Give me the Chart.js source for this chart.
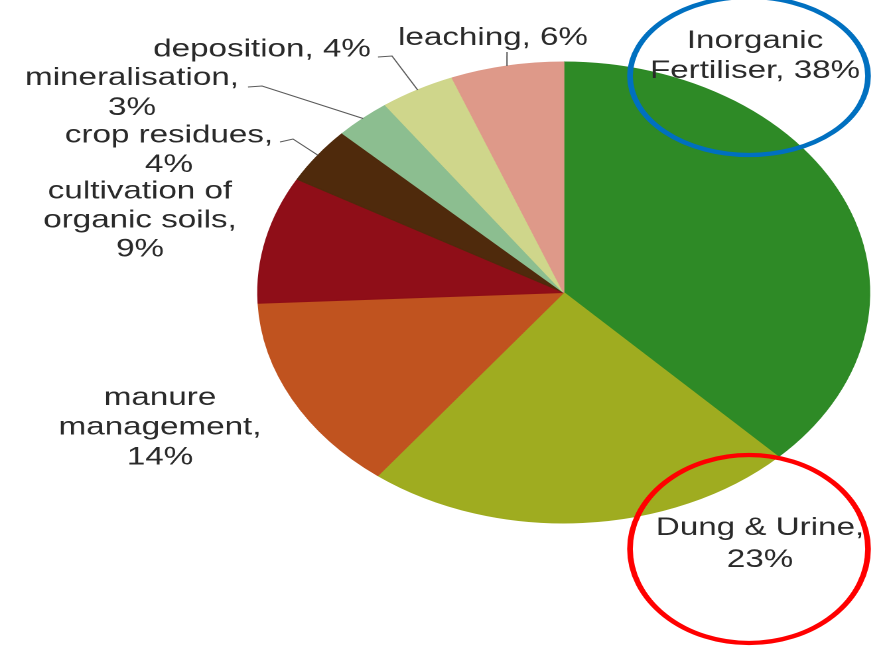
<!DOCTYPE html>
<html>
<head>
<meta charset="utf-8">
<title>N2O sources</title>
<script src="https://cdn.jsdelivr.net/npm/chart.js@4.4.1/dist/chart.umd.min.js"></script>
<style>
  html, body { margin: 0; padding: 0; background: #fff; overflow: hidden; }
  #wrap {
    width: 664px; height: 647px;
    transform: scaleX(1.32681); transform-origin: 0 0;
  }
</style>
</head>
<body>
<div id="wrap"><canvas id="pie" width="664" height="647"></canvas></div>
<script>
'use strict';

const categories = ['Inorganic Fertiliser', 'Dung & Urine', 'manure management',
  'cultivation of organic soils', 'crop residues', 'mineralisation', 'deposition', 'leaching'];
const shares = [38, 23, 14, 9, 4, 3, 4, 6];
const sliceColors = ['#2e8a26', '#9fac20', '#c0531f', '#8f0e18', '#4f2a0c', '#8cbe90', '#cfd68b', '#de9989'];

// the whole figure is widened horizontally by this factor
const STRETCH = 881 / 664;
const px = x => x / STRETCH;

// where each label's line breaks fall (word index), and its first line centre
const labelBreaks = [[1], [3], [1, 2], [2, 4], [2], [1], [], []];
const labelAnchors = [[755, 41, 30], [760, 528, 32], [160, 398, 29.8], [140, 191.5, 29],
  [169, 135.5, 29.5], [132, 78, 30], [262, 49.5, 30], [493, 38, 30]];
// leader lines: text end + elbow, finished at the slice edge
const leaders = {
  4: [[280, 142], [293, 139]],
  5: [[248, 87], [262, 86]],
  6: [[378, 57], [392, 56]],
  7: [[507, 52]],
};

function labelLines(i) {
  const words = `${categories[i]}, ${shares[i]}%`.split(' ');
  const cuts = [0, ...labelBreaks[i], words.length];
  const out = [];
  for (let k = 0; k < cuts.length - 1; k++) out.push(words.slice(cuts[k], cuts[k + 1]).join(' '));
  return out;
}

const sliceLabels = {
  id: 'sliceLabels',
  afterDraw(chart) {
    const ctx = chart.ctx;
    const arcs = chart.getDatasetMeta(0).data;
    ctx.save();

    ctx.strokeStyle = '#5a5a5a';
    ctx.lineWidth = 1;
    Object.entries(leaders).forEach(([i, pts]) => {
      const a = arcs[i];
      const mid = (a.startAngle + a.endAngle) / 2;
      ctx.beginPath();
      ctx.moveTo(px(pts[0][0]), pts[0][1]);
      pts.slice(1).forEach(p => ctx.lineTo(px(p[0]), p[1]));
      ctx.lineTo(a.x + Math.cos(mid) * a.outerRadius, a.y + Math.sin(mid) * a.outerRadius);
      ctx.stroke();
    });

    ctx.fillStyle = '#2a2a2a';
    ctx.font = '25px "Liberation Sans", Arial, sans-serif';
    ctx.textAlign = 'center';
    ctx.textBaseline = 'middle';
    categories.forEach((c, i) => {
      const [x, y, lh] = labelAnchors[i];
      labelLines(i).forEach((t, k) => ctx.fillText(t, px(x), y + k * lh));
    });

    // highlight rings round the two biggest sources
    ctx.lineWidth = 4.3;
    ctx.strokeStyle = '#0070c0';
    ctx.beginPath();
    ctx.ellipse(px(749), 76, px(119), 79, 0, 0, Math.PI * 2);
    ctx.stroke();
    ctx.strokeStyle = '#ff0000';
    ctx.beginPath();
    ctx.ellipse(px(749), 549, px(119), 94, 0, 0, Math.PI * 2);
    ctx.stroke();

    ctx.restore();
  },
};

new Chart(document.getElementById('pie'), {
  type: 'pie',
  data: {
    labels: categories,
    datasets: [{
      data: shares,
      backgroundColor: sliceColors,
      borderColor: sliceColors,
      borderWidth: 1,
      hoverOffset: 0,
    }],
  },
  options: {
    responsive: false,
    animation: false,
    devicePixelRatio: 2,
    radius: 230.5,
    layout: { padding: { left: 195, right: 9.3, top: 20, bottom: 82 } },
    events: [],
    plugins: { legend: { display: false }, tooltip: { enabled: false } },
  },
  plugins: [sliceLabels],
});
</script>
</body>
</html>
